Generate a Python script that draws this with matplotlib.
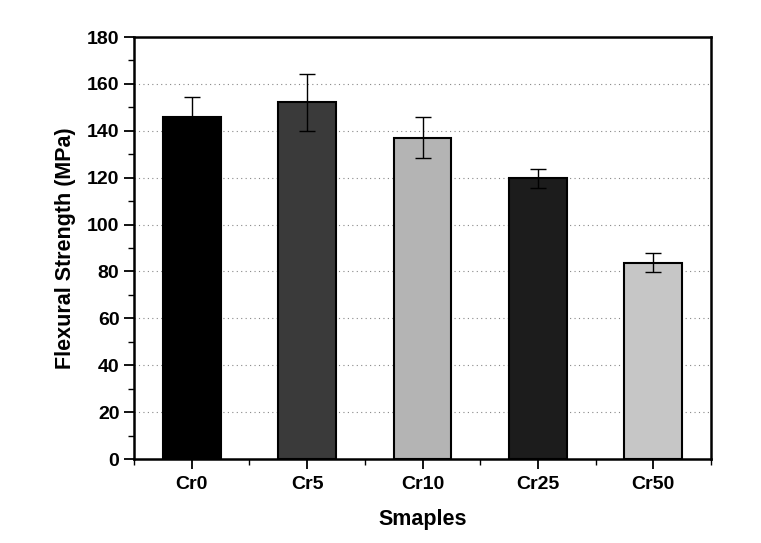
import matplotlib
matplotlib.use("Agg")
import matplotlib.pyplot as plt
from matplotlib.ticker import MultipleLocator, FixedLocator
from matplotlib import font_manager

categories = ["Cr0", "Cr5", "Cr10", "Cr25", "Cr50"]
values = [146.0, 152.1, 137.0, 119.7, 83.7]
errors = [8.5, 12.0, 8.7, 4.0, 4.1]
colors = ["#000000", "#3a3a3a", "#b4b4b4", "#1c1c1c", "#c6c6c6"]

names = {f.name for f in font_manager.fontManager.ttflist}
fam = 'Liberation Sans Narrow' if 'Liberation Sans Narrow' in names else 'Liberation Sans'
narrow = fam == 'Liberation Sans Narrow'
plt.rcParams['font.family'] = [fam, 'DejaVu Sans']
plt.rcParams['font.weight'] = 'bold'

tick_fs = 16 if narrow else 14
lab_fs = 17 if narrow else 15.5

fig = plt.figure(figsize=(7.61, 5.43), dpi=100)
ax = fig.add_axes([134/761, 1-459/543, 577/761, 422/543])

x = list(range(len(categories)))
ax.bar(x, values, width=0.5, color=colors, edgecolor='black', linewidth=1.5, zorder=3)
ax.errorbar(x, values, yerr=errors, fmt='none', ecolor='black', elinewidth=1.0,
            capsize=6, capthick=1.0, zorder=4)

ax.set_xlim(-0.5, 4.5)
ax.set_ylim(0, 180)
ax.set_xticks(x)
ax.set_xticklabels(categories)
ax.xaxis.set_minor_locator(FixedLocator([-0.5, 0.5, 1.5, 2.5, 3.5, 4.5]))
ax.yaxis.set_major_locator(MultipleLocator(20))
ax.yaxis.set_minor_locator(MultipleLocator(10))

ax.tick_params(axis='both', which='major', direction='out', length=7, width=1.3,
               labelsize=tick_fs)
ax.tick_params(axis='both', which='minor', direction='out', length=4, width=1.0)
ax.tick_params(axis='x', which='major', pad=5)

for lab in ax.get_xticklabels() + ax.get_yticklabels():
    lab.set_fontweight('bold')

for s in ax.spines.values():
    s.set_linewidth(1.8)

for yv in range(20, 180, 20):
    ax.axhline(yv, color='#888888', linestyle=(0, (1, 3)), linewidth=0.8, zorder=1)

ax.set_ylabel("Flexural Strength (MPa)", fontsize=lab_fs, fontweight='bold', labelpad=8)
ax.set_xlabel("Smaples", fontsize=lab_fs, fontweight='bold', labelpad=12)

fig.savefig("out.png", dpi=100)
